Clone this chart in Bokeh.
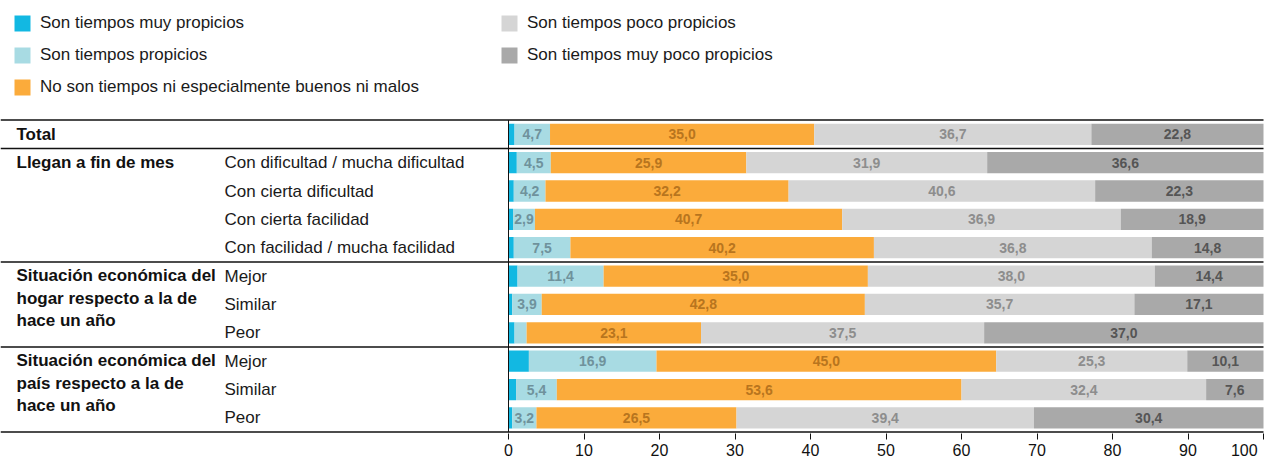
from bokeh.plotting import figure
from bokeh.models import ColumnDataSource, Range1d, FixedTicker, Legend, LegendItem
from bokeh.embed import file_html
from bokeh.resources import INLINE
from bokeh.core.properties import value

# ---------------- data ----------------
categories = ["Total", "Con dificultad / mucha dificultad", "Con cierta dificultad",
              "Con cierta facilidad", "Con facilidad / mucha facilidad",
              "Mejor", "Similar", "Peor", "Mejor", "Similar", "Peor"]
groups = ["Total", "Llegan a fin de mes",
          "Situación económica del\nhogar respecto a la de\nhace un año",
          "Situación económica del\npaís respecto a la de\nhace un año"]
group_first_row = [0, 1, 5, 8]
series_names = ["Son tiempos muy propicios", "Son tiempos propicios",
                "No son tiempos ni especialmente buenos ni malos",
                "Son tiempos poco propicios", "Son tiempos muy poco propicios"]
muy_propicios = [0.8, 1.1, 0.7, 0.6, 0.7, 1.2, 0.5, 0.8, 2.7, 1.0, 0.5]
propicios = [4.7, 4.5, 4.2, 2.9, 7.5, 11.4, 3.9, 1.6, 16.9, 5.4, 3.2]
ni_buenos_ni_malos = [35.0, 25.9, 32.2, 40.7, 40.2, 35.0, 42.8, 23.1, 45.0, 53.6, 26.5]
poco_propicios = [36.7, 31.9, 40.6, 36.9, 36.8, 38.0, 35.7, 37.5, 25.3, 32.4, 39.4]
muy_poco_propicios = [22.8, 36.6, 22.3, 18.9, 14.8, 14.4, 17.1, 37.0, 10.1, 7.6, 30.4]
x_ticks = [0, 10, 20, 30, 40, 50, 60, 70, 80, 90, 100]

series = [muy_propicios, propicios, ni_buenos_ni_malos, poco_propicios, muy_poco_propicios]
colors = ["#12b8e2", "#a8dbe3", "#fbab3b", "#d5d5d5", "#a9a9a9"]
label_colors = [None, "#6f929c", "#b8751e", "#8d8d8d", "#555555"]
label_min = [99, 2.5, 0, 0, 0]

FONT = "Liberation Sans"
W = 1266
FH = 433
X0_PX = 508.0
SX = 7.55
x_start = -X0_PX / SX
x_end = (W - X0_PX) / SX
TOP_PX = 120.0
P = (FH - TOP_PX) / 11.0
y_top = -0.5 - TOP_PX / P


def px(v):
    return x_start + v / SX


p = figure(frame_width=W, frame_height=FH, output_backend="svg", toolbar_location=None,
           x_range=Range1d(x_start, x_end), y_range=Range1d(10.55, y_top),
           min_border_left=0, min_border_right=0, min_border_top=0, min_border_bottom=0)
p.outline_line_color = None
p.grid.visible = False
p.yaxis.visible = False
p.background_fill_color = "white"

ax = p.xaxis[0]
ax.ticker = FixedTicker(ticks=x_ticks)
ax.axis_line_color = None
ax.major_tick_line_color = "#111111"
ax.major_tick_out = 6
ax.major_tick_in = 0
ax.minor_tick_line_color = None
ax.major_label_text_font = FONT
ax.major_label_text_font_size = "16px"
ax.major_label_text_color = "#111111"
ax.major_label_standoff = 2
ax.major_label_overrides = {100: "100" + "\u00a0" * 2}

rows = list(range(len(categories)))
left = [0.0] * len(rows)
items = []
for k, vals in enumerate(series):
    right = [l + v for l, v in zip(left, vals)]
    src = ColumnDataSource(dict(y=rows, left=left, right=right, v=vals))
    r = p.hbar(y="y", left="left", right="right", height=0.75, source=src,
               fill_color=colors[k], line_color=None)
    items.append(LegendItem(label=series_names[k], renderers=[r]))
    if label_colors[k] is not None:
        xs, ys, ts = [], [], []
        for i, (l, v) in enumerate(zip(left, vals)):
            if v >= label_min[k]:
                xs.append(l + v / 2)
                ys.append(i)
                ts.append(f"{v:.1f}".replace(".", ","))
        p.text(x=xs, y=ys, text=ts, text_align="center", text_baseline="middle",
               text_font=value(FONT), text_font_size="14px", text_font_style="bold",
               text_color=label_colors[k])
    left = right

# separators
sep_y = [-0.5, 0.5, 4.5, 7.5, 10.5]
p.segment(x0=[x_start] * len(sep_y), x1=[100] * len(sep_y), y0=sep_y, y1=sep_y,
          line_color="#111111", line_width=1.5)
p.segment(x0=[0], x1=[0], y0=[-0.5], y1=[10.5], line_color="#111111", line_width=1)

# row labels
p.text(x=[px(224)] * (len(rows) - 1), y=rows[1:], text=categories[1:],
       text_align="left", text_baseline="middle", text_font=value(FONT),
       text_font_size="17px", text_color="#1a1a1a")
gy = [g - (10.0 / P if "\n" in t else 0) for g, t in zip(group_first_row, groups)]
gb = ["top" if "\n" in t else "middle" for t in groups]
for t, y, b in zip(groups, gy, gb):
    p.text(x=[px(16)], y=[y], text=[t], text_align="left", text_baseline=b,
           text_font=value(FONT), text_font_size="17px", text_font_style="bold",
           text_color="#111111", text_line_height=1.18)

legend = Legend(items=items, location=(12, FH - 13 - 84), orientation="vertical", nrows=3,
                glyph_width=20, glyph_height=20, label_height=20, label_standoff=8,
                spacing=12, padding=0, margin=0, label_width=447,
                label_text_font=FONT, label_text_font_size="17px",
                label_text_color="#1a1a1a", border_line_color=None,
                background_fill_alpha=0)
p.add_layout(legend)

open("out.html", "w").write(file_html(p, INLINE))
